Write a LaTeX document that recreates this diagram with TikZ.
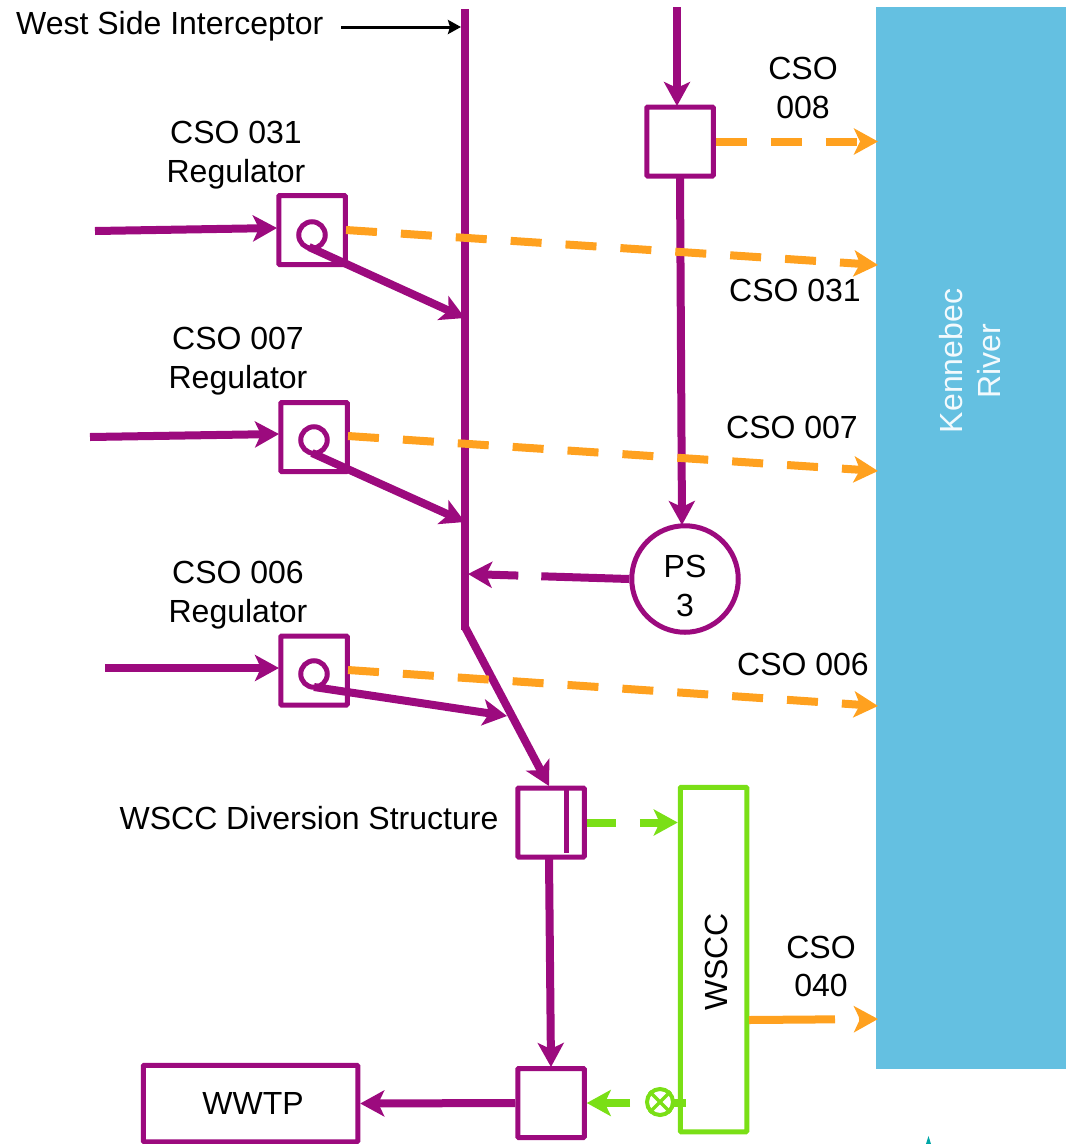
\documentclass[tikz,border=0pt]{standalone}
\usepackage{fontspec}
\setmainfont{Liberation Sans}
\usetikzlibrary{arrows.meta}
\definecolor{pur}{HTML}{9C0A7E}
\definecolor{org}{HTML}{FFA11F}
\definecolor{grn}{HTML}{7ADF16}
\definecolor{riv}{HTML}{64C0E1}
\tikzset{
 x=1pt,y=-1pt,
 head/.style={-{Stealth[inset=6pt,length=24pt,width=26pt]}},
 lbl/.style={font=\fontsize{32}{38.5}\selectfont,align=center,text=black,inner sep=0pt},
 box/.style={draw=pur,line width=5pt,rounded corners=1pt,minimum width=66.5pt,minimum height=69pt,inner sep=0pt,fill=white},
 valve/.style={circle,draw=pur,line width=5pt,minimum size=26.5pt,inner sep=0pt},
 flow/.style={draw=pur,line width=8pt,head},
 main/.style={draw=pur,line width=8pt},
 cso/.style={draw=org,line width=8pt,dash pattern=on 31pt off 24pt,head},
 grnflow/.style={draw=grn,line width=8pt,dash pattern=on 29pt off 24pt,head},
 grnsolid/.style={draw=grn,line width=8pt,head},
}
\begin{document}
\begin{tikzpicture}
\useasboundingbox (0,0) rectangle (1066,1144);
% river
\node[fill=riv,minimum width=190pt,minimum height=1062pt,inner sep=0pt,anchor=north west] (river) at (876,7) {};
\node[lbl,text=white!92!riv,rotate=90] (rivlbl) at (970,361) {Kennebec\\River};
% free ends
\coordinate (i1) at (465,9);
\coordinate (i2) at (465,630);
\coordinate (i2b) at (465,627);
\coordinate (i3) at (549,786);
\coordinate (t1) at (677,7);
\coordinate (t2) at (677,106);
\coordinate (t3) at (680,177);
\coordinate (t4) at (682,525);
\coordinate (r1s) at (95,231);
\coordinate (r2s) at (90,437);
\coordinate (r3s) at (105,668);
\coordinate (r1i) at (277,228);
\coordinate (r2i) at (279,434);
\coordinate (r3i) at (279,668);
\coordinate (r1f) at (309,247);
\coordinate (r2f) at (312,453);
\coordinate (r3f) at (314,687);
\coordinate (r1e) at (465,318);
\coordinate (r2e) at (465,522);
\coordinate (r3e) at (507,716);
\coordinate (wl) at (341,27);
\coordinate (wr) at (461,27);
\coordinate (pse) at (468,574);
\coordinate (d1) at (549,858);
\coordinate (d2) at (551,1067);
\coordinate (g1) at (630,1103);
\coordinate (o1) at (878,141.5);
\coordinate (o2s) at (346,230);
\coordinate (o2e) at (878,265);
\coordinate (o3s) at (348,436);
\coordinate (o3e) at (878,471);
\coordinate (o4s) at (348,670);
\coordinate (o4e) at (878,706);
\coordinate (o5s) at (749,1020);
\coordinate (o5e) at (878,1019);
% interceptor
\draw[main] (i1) -- (i2);
\draw[main,head] (i2b) -- (i3);
% boxes
\node[box] (top) at (680,141.5) {};
\node[box] (r1) at (312,230) {};
\node[box] (r2) at (314,437) {};
\node[box] (r3) at (314,670.5) {};
\node[valve] (v1) at (312,235) {};
\node[valve] (v2) at (314,440) {};
\node[valve] (v3) at (314,674) {};
\node[box] (div) at (551,822.5) {};
\coordinate (b1) at (566,790);
\coordinate (b2) at (566,853);
\draw[pur,line width=5pt] (b1) -- (b2);
\node[box] (low) at (551,1103) {};
\node[draw=pur,line width=5pt,rounded corners=1pt,minimum width=214.5pt,minimum height=76.5pt,inner sep=0pt,fill=white] (wwtp) at (250.5,1103.5) {};
\node[lbl] (wwtplbl) at (253,1103) {WWTP};
\node[circle,draw=pur,line width=5pt,minimum size=106.5pt,inner sep=0pt,fill=white] (ps) at (685,579) {};
\node[lbl] (pslbl) at (685,586) {PS\\3};
\node[draw=grn,line width=5pt,rounded corners=1pt,minimum width=66.5pt,minimum height=344.5pt,inner sep=0pt,fill=white] (wscc) at (713.5,959.5) {};
\node[lbl,rotate=90] (wscclbl) at (716,962) {WSCC};
% purple flows
\draw[flow] (t1) -- (t2);
\draw[flow] (t3) -- (t4);
\draw[flow] (r1s) -- (r1i);
\draw[flow] (r2s) -- (r2i);
\draw[flow] (r3s) -- (r3i);
\draw[flow] (r1f) -- (r1e);
\draw[flow] (r2f) -- (r2e);
\draw[flow] (r3f) -- (r3e);
\draw[flow,dash pattern=on 88pt off 23pt on 60pt off 0pt] (ps.west) -- (pse);
\draw[flow] (d1) -- (d2);
\draw[flow] (low.west) -- (wwtp.east);
% orange
\draw[cso] (top.east) -- (o1);
\draw[cso] (o2s) -- (o2e);
\draw[cso] (o3s) -- (o3e);
\draw[cso] (o4s) -- (o4e);
\draw[cso,dash pattern=on 86pt off 24pt] (o5s) -- (o5e);
% green
\draw[grnflow] (div.east) -- (wscc.west |- div.east);
\coordinate (s1) at (673,1103);
\coordinate (s2) at (686,1103);
\draw[grn,line width=8pt] (s1) -- (s2);
\node[circle,draw=grn,line width=4pt,minimum size=26pt,inner sep=0pt,fill=white] (xv) at (660,1102) {};
\draw[grn,line width=3.5pt] (xv.north west) -- (xv.south east) (xv.north east) -- (xv.south west);
\draw[grnsolid] (g1) -- (low.east);
% black
\draw[black,line width=3pt,-{Stealth[inset=2pt,length=13pt,width=14pt]}] (wl) -- (wr);
% labels
\node[lbl,anchor=west] (lw) at (16,26) {West Side Interceptor};
\node[lbl] (l1) at (236,155) {CSO 031\\Regulator};
\node[lbl] (l2) at (238,361) {CSO 007\\Regulator};
\node[lbl] (l3) at (238,595) {CSO 006\\Regulator};
\node[lbl] (l8) at (803,88) {CSO\\008};
\node[lbl] (l31) at (795,290) {CSO 031};
\node[lbl] (l7) at (792,427) {CSO 007};
\node[lbl] (l6) at (803,664) {CSO 006};
\node[lbl] (ld) at (309,818) {WSCC Diversion Structure};
\node[lbl] (l40) at (821,966.5) {CSO\\040};
% clipped fragment at the bottom edge
\fill[teal!70!cyan] (926,1144) -- (928.5,1136) -- (931,1144) -- cycle;
\end{tikzpicture}
\end{document}
